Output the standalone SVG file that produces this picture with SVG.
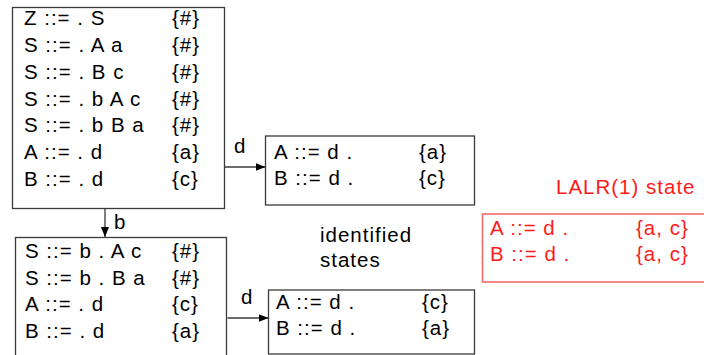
<svg xmlns="http://www.w3.org/2000/svg" width="704" height="355" viewBox="0 0 704 355">
  <defs>
    <style>
      .box { fill: #ffffff; stroke: #3a3a3a; stroke-width: 1.3; }
      .lalr { fill: #ffffff; stroke: #f26b6b; stroke-width: 1.6; }
      text { font-family: "Liberation Sans", Arial, sans-serif; font-size: 20.5px; letter-spacing: 1px; fill: #000000; }
      .red { fill: #ff1a1a; }
      .edge { stroke: #3a3a3a; stroke-width: 1.3; fill: none; marker-end: url(#arrow); }
    </style>
    <marker id="arrow" viewBox="0 0 10 8" refX="10" refY="4" markerWidth="10" markerHeight="8" markerUnits="userSpaceOnUse" orient="auto">
      <path d="M0,0 L10,4 L0,8 Z" fill="#000000"/>
    </marker>
  </defs>

  <rect width="704" height="355" fill="#ffffff"/>

  <!-- connectors -->
  <g id="edges">
    <line class="edge" x1="224.5" y1="167" x2="265.5" y2="167"/>
    <text x="234" y="153">d</text>
    <line class="edge" x1="105" y1="208.5" x2="105" y2="237"/>
    <text x="114" y="229">b</text>
    <line class="edge" x1="227.5" y1="318" x2="268.5" y2="318"/>
    <text x="241" y="304">d</text>
  </g>

  <!-- start state -->
  <g id="state0">
    <rect class="box" x="12.5" y="7.5" width="212" height="201"/>
    <text x="24" y="25">Z ::= . S</text><text x="172" y="25">{#}</text>
    <text x="24" y="52">S ::= . A a</text><text x="172" y="52">{#}</text>
    <text x="24" y="79">S ::= . B c</text><text x="172" y="79">{#}</text>
    <text x="24" y="106">S ::= . b A c</text><text x="172" y="106">{#}</text>
    <text x="24" y="132">S ::= . b B a</text><text x="172" y="132">{#}</text>
    <text x="24" y="159">A ::= . d</text><text x="172" y="159">{a}</text>
    <text x="24" y="186">B ::= . d</text><text x="172" y="186">{c}</text>
  </g>

  <!-- state after d -->
  <g id="state1">
    <rect class="box" x="265.5" y="136" width="209" height="69"/>
    <text x="274" y="159">A ::= d .</text><text x="419" y="159">{a}</text>
    <text x="274" y="185">B ::= d .</text><text x="419" y="185">{c}</text>
  </g>

  <!-- state after b -->
  <g id="state2">
    <rect class="box" x="15.5" y="237.5" width="211" height="130"/>
    <text x="25" y="258">S ::= b . A c</text><text x="172" y="258">{#}</text>
    <text x="25" y="285">S ::= b . B a</text><text x="172" y="285">{#}</text>
    <text x="25" y="311">A ::= . d</text><text x="172" y="311">{c}</text>
    <text x="25" y="338">B ::= . d</text><text x="172" y="338">{a}</text>
  </g>

  <!-- state after b d -->
  <g id="state3">
    <rect class="box" x="268.5" y="290" width="206" height="64"/>
    <text x="276" y="309">A ::= d .</text><text x="422" y="309">{c}</text>
    <text x="276" y="335">B ::= d .</text><text x="422" y="335">{a}</text>
  </g>

  <g id="note">
    <text x="320" y="242">identified</text>
    <text x="320" y="267">states</text>
  </g>

  <!-- merged state -->
  <g id="lalr-state">
    <text class="red" x="556" y="194">LALR(1) state</text>
    <rect class="lalr" x="482.5" y="214" width="230" height="68"/>
    <text class="red" x="490" y="235">A ::= d .</text><text class="red" x="636" y="235">{a, c}</text>
    <text class="red" x="490" y="261">B ::= d .</text><text class="red" x="636" y="261">{a, c}</text>
  </g>
</svg>
